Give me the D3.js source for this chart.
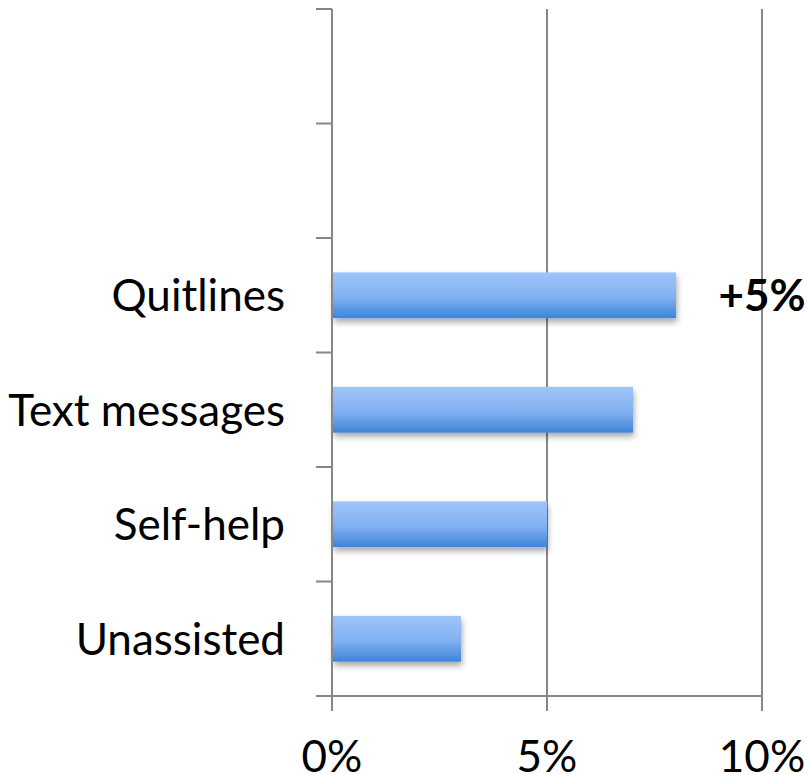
<!DOCTYPE html>
<html><head><meta charset="utf-8">
<script src="https://cdn.jsdelivr.net/npm/d3@7"></script>
<style>body{margin:0;background:#fff;} svg{display:block;}</style>
</head><body>
<svg id="c" width="807" height="775"></svg>
<script>
const categories = ["", " ", "Quitlines", "Text messages", "Self-help", "Unassisted"];
const values = [null, null, 8, 7, 5, 3];
const xTicks = [0, 5, 10];
const xTickLabels = ["0%", "5%", "10%"];
const annotationText = "+5%";
const annotationCategory = "Quitlines";
const annotationValue = 10;

(function () {
const svg = d3.select("#c");
const font = "Lato, 'Open Sans', sans-serif";
const pLeft = 332, pRight = 762, pTop = 9, pBottom = 696;

const x = d3.scaleLinear().domain([0, 10]).range([pLeft, pRight]);
const y = d3.scaleBand().domain(categories).range([pTop, pBottom]).paddingInner(0.6).paddingOuter(0.3);

const defs = svg.append("defs");
const g = defs.append("linearGradient").attr("id", "bg").attr("x1", 0).attr("y1", 0).attr("x2", 0).attr("y2", 1);
g.append("stop").attr("offset", "0%").attr("stop-color", "#9ec5fb");
g.append("stop").attr("offset", "55%").attr("stop-color", "#80b0f0");
g.append("stop").attr("offset", "100%").attr("stop-color", "#3d84d8");
const f = defs.append("filter").attr("id", "sh").attr("x", "-10%").attr("y", "-30%").attr("width", "130%").attr("height", "180%");
f.append("feGaussianBlur").attr("in", "SourceAlpha").attr("stdDeviation", 3).attr("result", "b");
f.append("feOffset").attr("in", "b").attr("dx", 1).attr("dy", 4).attr("result", "o");
f.append("feComponentTransfer").attr("in", "o").attr("result", "o2").append("feFuncA").attr("type", "linear").attr("slope", 0.35);
const m = f.append("feMerge");
m.append("feMergeNode").attr("in", "o2");
m.append("feMergeNode").attr("in", "SourceGraphic");

// gridlines + x ticks
svg.append("g").selectAll("line").data(xTicks).join("line")
  .attr("x1", d => x(d)).attr("x2", d => x(d))
  .attr("y1", pTop).attr("y2", pBottom + 15)
  .attr("stroke", "#878787").attr("stroke-width", 2);

// x axis line
svg.append("line").attr("x1", pLeft - 16).attr("x2", pRight).attr("y1", pBottom).attr("y2", pBottom)
  .attr("stroke", "#878787").attr("stroke-width", 2);

// y axis band-boundary ticks
const bounds = d3.range(categories.length + 1).map(i => pTop + i * (pBottom - pTop) / categories.length);
svg.append("g").selectAll("line").data(bounds).join("line")
  .attr("x1", pLeft - 16).attr("x2", pLeft).attr("y1", d => d).attr("y2", d => d)
  .attr("stroke", "#878787").attr("stroke-width", 2);

// bars
const data = categories.map((c, i) => ({c, v: values[i]})).filter(d => d.v != null);
svg.append("g").selectAll("rect").data(data).join("rect")
  .attr("x", x(0) + 1).attr("y", d => y(d.c))
  .attr("width", d => x(d.v) - x(0) - 1).attr("height", y.bandwidth())
  .attr("fill", "url(#bg)").attr("filter", "url(#sh)");

// y axis line
svg.append("line").attr("x1", pLeft).attr("x2", pLeft).attr("y1", pTop).attr("y2", pBottom + 15)
  .attr("stroke", "#878787").attr("stroke-width", 2);

// category labels
svg.append("g").selectAll("text").data(categories.filter(c => c.trim())).join("text")
  .attr("x", pLeft - 47).attr("y", d => y(d) + y.bandwidth() / 2)
  .attr("dy", "0.36em").attr("text-anchor", "end")
  .attr("font-family", font).attr("font-size", 44).attr("fill", "#000").text(d => d);

// x tick labels
svg.append("g").selectAll("text").data(xTicks).join("text")
  .attr("x", d => x(d)).attr("y", 772).attr("text-anchor", "middle")
  .attr("font-family", font).attr("font-size", 44).attr("fill", "#000")
  .text((d, i) => xTickLabels[i]);

// annotation
svg.append("text").attr("x", x(annotationValue)).attr("y", y(annotationCategory) + y.bandwidth() / 2)
  .attr("dy", "0.36em").attr("text-anchor", "middle")
  .attr("font-family", font).attr("font-weight", "bold").attr("font-size", 44).attr("fill", "#000")
  .text(annotationText);
})();
</script>
</body></html>
